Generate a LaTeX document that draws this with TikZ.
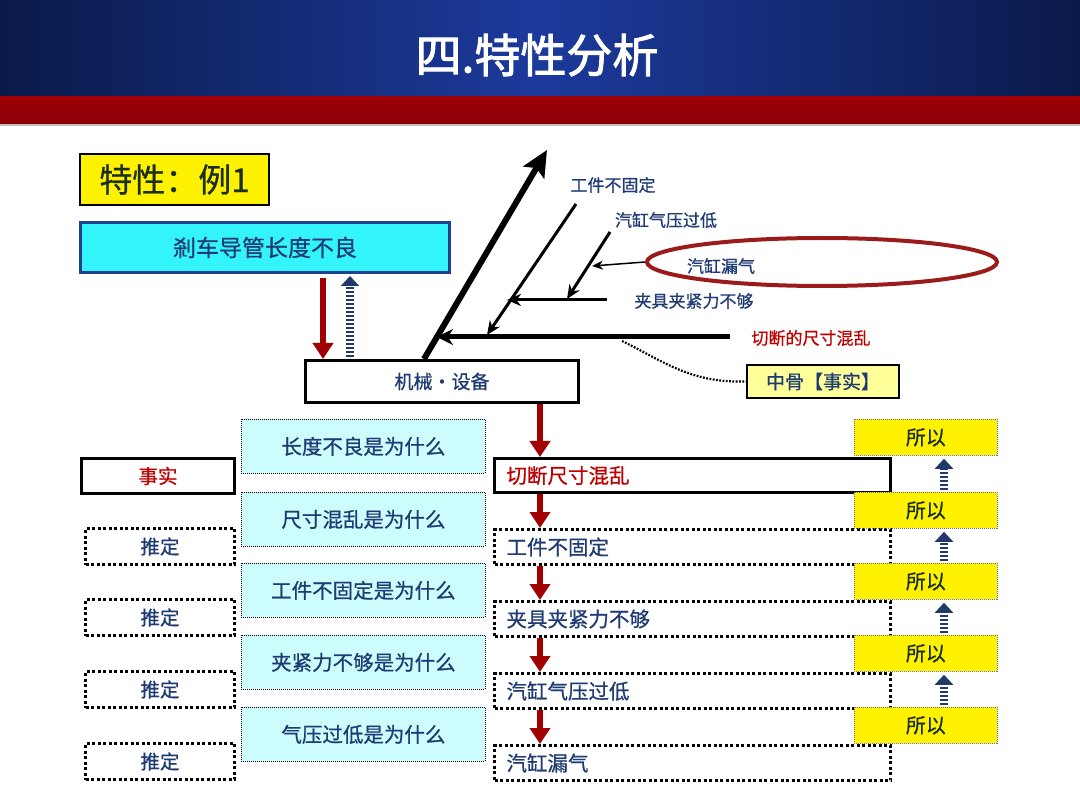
\documentclass[tikz,border=0pt]{standalone}
\usepackage{fontspec}
\setmainfont{Noto Sans CJK SC}
\newfontfamily\mfont{Noto Sans CJK SC}[FakeBold=0.7]
\newfontfamily\tfont{Noto Sans CJK SC}[FakeBold=2]
\usetikzlibrary{arrows.meta,shapes.geometric}
\definecolor{tblue}{HTML}{1F3B73}
\definecolor{tred}{HTML}{C00000}
\definecolor{ared}{HTML}{A00000}
\definecolor{hdark}{HTML}{0B1A4A}
\definecolor{hmid}{HTML}{1C3A9C}
\definecolor{bandred}{HTML}{A00008}
\definecolor{bandred2}{HTML}{8A0005}
\definecolor{cyanA}{HTML}{33F4FA}
\definecolor{cyanB}{HTML}{CCFCFC}
\definecolor{boxblue}{HTML}{1F3F8F}
\definecolor{ellred}{HTML}{9B1B1B}
\definecolor{stripeblue}{HTML}{23396B}
\definecolor{hubyellow}{HTML}{FFFF99}
\definecolor{exgreen}{HTML}{1A2E1A}
\tikzset{
  fs/.style={font={\mfont\fontsize{#1}{#1}\selectfont}},
  nw/.style={anchor=north west, inner sep=0pt},
  whybox/.style={nw, fill=cyanB, draw=black, line width=0.8pt, dash pattern=on 1pt off 1pt, minimum width=244, minimum height=54, text=tblue, fs=20.5},
  factbox/.style={nw, draw=black, line width=3pt, text=tred, fs=19.5},
  guessbox/.style={nw, draw=black, line width=3pt, dash pattern=on 3pt off 2.5pt, text=tblue, fs=19.5, minimum width=149, minimum height=36},
  rbox/.style={nw, line width=3pt, minimum width=396, minimum height=35, text width=372, inner xsep=12pt, align=left, fs=20.5},
  sobox/.style={nw, fill=yellow, draw=black!55, line width=0.8pt, dash pattern=on 1pt off 1pt, minimum width=143, minimum height=36, text=exgreen, fs=20},
  redarrow/.style={draw=ared, line width=6pt, -{Triangle[width=20pt,length=16pt]}},
  stripearrow/.style={draw=stripeblue, line width=8pt, dash pattern=on 2pt off 2pt, -{Triangle[width=18pt,length=10pt]}},
  bone/.style={draw=black, line cap=butt},
  lbl/.style={text=tblue, fs=17, inner sep=1pt},
}
\begin{document}
\begin{tikzpicture}[x=1pt,y=-1pt]
\useasboundingbox (0,0) rectangle (1080,810);
\fill[white] (0,0) rectangle (1080,810);
% header
\fill[left color=hdark, right color=hdark, middle color=hmid] (0,0) rectangle (1080,97);
\fill[top color=bandred, bottom color=bandred2] (0,97) rectangle (1080,124);
\fill[black!25] (0,124) rectangle (1080,126);
\node[text=white, font={\tfont\fontsize{46}{50}\selectfont}, inner sep=0pt] (title) at (537,55) {四.特性分析};

% top section
\node[nw, fill=yellow, draw=black, line width=2pt, minimum width=189, minimum height=51, text=exgreen, fs=33] (ex) at (79,153) {特性：例1};
\node[nw, fill=cyanA, draw=boxblue, line width=3pt, minimum width=369, minimum height=50, text=tblue, fs=23] (top) at (79,221) {剎车导管长度不良};
\node[nw, fill=white, draw=black, line width=3pt, minimum width=273, minimum height=42, text=tblue, fs=19] (mach) at (304,359) {机械・设备};

\coordinate (xa) at (323,0);
\coordinate (xb) at (350,0);
\draw[redarrow, shorten <=4pt] (top.south -| xa) -- (mach.north -| xa);
\draw[stripearrow, shorten <=2pt, shorten >=2pt] (mach.north -| xb) -- (top.south -| xb);

% fishbone
\coordinate (xbig) at (424,0);
\coordinate (bigtip) at (547,150);
\draw[bone, line width=6pt, -{Stealth[width=24pt,length=26pt,inset=5pt]}] (mach.north -| xbig) -- (bigtip);

\coordinate (m0) at (730,337);
\coordinate (m1) at (437,337);
\draw[bone, line width=5pt, -{Stealth[width=16pt,length=16pt]}] (m0) -- (m1);

\coordinate (a0) at (576,204);
\coordinate (a1) at (487,335);
\draw[bone, line width=3pt, -{Stealth[width=12pt,length=14pt]}] (a0) -- (a1);

\coordinate (h0) at (607,300);
\coordinate (h1) at (507,300);
\draw[bone, line width=3pt, -{Stealth[width=12pt,length=14pt]}] (h0) -- (h1);

\coordinate (b0) at (610,232);
\coordinate (b1) at (567,299);
\draw[bone, line width=3pt, -{Stealth[width=12pt,length=14pt]}] (b0) -- (b1);

\node[lbl] (lA) at (613,185) {工件不固定};
\node[lbl] (lB) at (666,220) {汽缸气压过低};
\node[lbl] (lH) at (694,301) {夹具夹紧力不够};
\node[lbl, text=tred] (lM) at (811,338) {切断的尺寸混乱};

\node[ellipse, draw=ellred, line width=4pt, minimum width=350, minimum height=48, inner sep=0pt] (ell) at (822,262) {};
\node[lbl] (ellt) at (721,266) {汽缸漏气};
\coordinate (e1) at (592,266);
\draw[black, line width=1.5pt, -{Stealth[width=9pt,length=11pt]}] (ell.west) -- (e1);

\node[nw, fill=hubyellow, draw=black, line width=2pt, minimum width=152, minimum height=33, text=tblue, fs=19] (hub) at (746,364) {中骨【事实】};
\coordinate (d0) at (622,341);
\draw[black, line width=2.2pt, dash pattern=on 1.8pt off 1.5pt] (d0) .. controls (665,362) and (690,383) .. (hub.west);

% lower section: why boxes
\node[whybox] (w1) at (241,419) {长度不良是为什么};
\node[whybox] (w2) at (241,492) {尺寸混乱是为什么};
\node[whybox] (w3) at (241,563) {工件不固定是为什么};
\node[whybox] (w4) at (241,635) {夹紧力不够是为什么};
\node[whybox] (w5) at (241,707) {气压过低是为什么};

% left boxes
\node[factbox, minimum width=153, minimum height=35] (f1) at (80,457) {事实};
\node[guessbox] (g2) at (84,527) {推定};
\node[guessbox] (g3) at (84,598) {推定};
\node[guessbox] (g4) at (84,670) {推定};
\node[guessbox] (g5) at (84,742) {推定};

% right boxes
\node[rbox, draw=black, text=tred, minimum height=34] (r1) at (493,457) {切断尺寸混乱};
\node[rbox, draw=black, dash pattern=on 3pt off 2.5pt, text=tblue] (r2) at (493,528) {工件不固定};
\node[rbox, draw=black, dash pattern=on 3pt off 2.5pt, text=tblue] (r3) at (493,600) {夹具夹紧力不够};
\node[rbox, draw=black, dash pattern=on 3pt off 2.5pt, text=tblue] (r4) at (493,672) {汽缸气压过低};
\node[rbox, draw=black, dash pattern=on 3pt off 2.5pt, text=tblue] (r5) at (493,744) {汽缸漏气};

\coordinate (xr) at (540,0);
\draw[redarrow] (mach.south -| xr) -- (r1.north -| xr);
\draw[redarrow] (r1.south -| xr) -- (r2.north -| xr);
\draw[redarrow] (r2.south -| xr) -- (r3.north -| xr);
\draw[redarrow] (r3.south -| xr) -- (r4.north -| xr);
\draw[redarrow] (r4.south -| xr) -- (r5.north -| xr);

% so boxes
\node[sobox] (s1) at (854,419) {所以};
\node[sobox] (s2) at (854,492) {所以};
\node[sobox] (s3) at (854,563) {所以};
\node[sobox] (s4) at (854,635) {所以};
\node[sobox] (s5) at (854,707) {所以};

\coordinate (xs) at (944,0);
\draw[stripearrow, shorten <=2pt, shorten >=3pt] (s2.north -| xs) -- (s1.south -| xs);
\draw[stripearrow, shorten <=2pt, shorten >=3pt] (s3.north -| xs) -- (s2.south -| xs);
\draw[stripearrow, shorten <=2pt, shorten >=3pt] (s4.north -| xs) -- (s3.south -| xs);
\draw[stripearrow, shorten <=2pt, shorten >=3pt] (s5.north -| xs) -- (s4.south -| xs);
\end{tikzpicture}
\end{document}
